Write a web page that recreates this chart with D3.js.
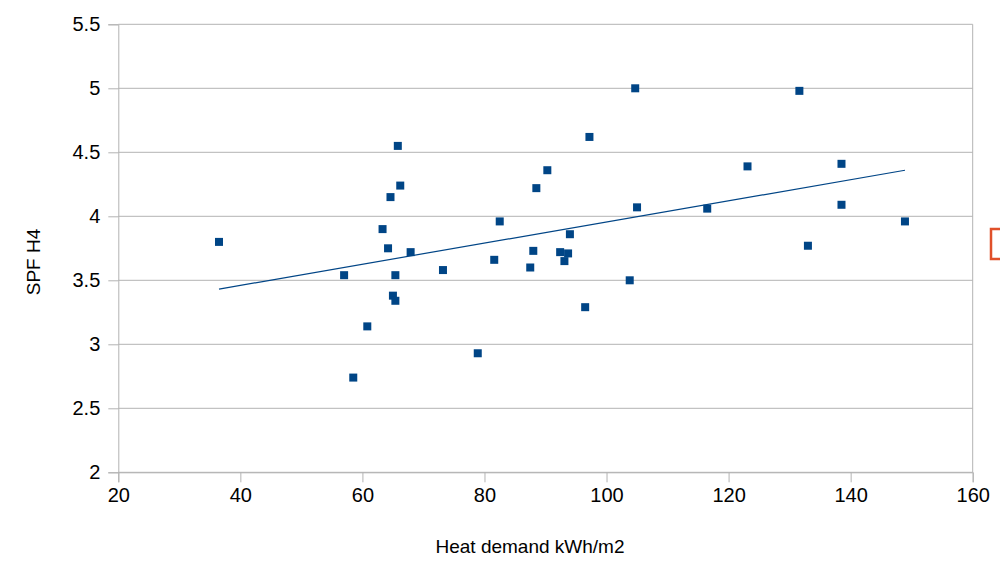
<!DOCTYPE html>
<html>
<head>
<meta charset="utf-8">
<script src="https://cdn.jsdelivr.net/npm/d3@7"></script>
<style>
  body { margin: 0; background: #fff; }
  text { font-family: "Liberation Sans", Arial, sans-serif; fill: #000; }
</style>
</head>
<body>
<div id="chart"></div>
<script>
// heat demand (kWh/m2) and SPF H4 readings
var heatDemand = [36.5, 65.8, 97.2, 90.3, 88.5, 66.2, 64.6, 105.0, 63.3, 82.5,
    94.0, 64.2, 67.9, 88.0, 92.4, 93.7, 93.1, 81.6, 87.5, 73.2,
    57.0, 65.4, 103.8, 65.0, 65.4, 96.5, 60.8, 78.9, 58.5,
    104.7, 131.6, 123.1, 138.5, 116.5, 138.5, 148.9, 133.0];
var spf = [3.80, 4.55, 4.62, 4.36, 4.22, 4.24, 4.15, 4.07, 3.90, 3.96,
    3.86, 3.75, 3.72, 3.73, 3.72, 3.71, 3.65, 3.66, 3.60, 3.58,
    3.54, 3.54, 3.50, 3.38, 3.34, 3.29, 3.14, 2.93, 2.74,
    5.00, 4.98, 4.39, 4.41, 4.06, 4.09, 3.96, 3.77];

var xTicks = [20, 40, 60, 80, 100, 120, 140, 160];
var yTicks = [2, 2.5, 3, 3.5, 4, 4.5, 5, 5.5];

var margin = { top: 24.3, right: 27.3, bottom: 94.7, left: 118.3 };
var width = 1000 - margin.left - margin.right;
var height = 567 - margin.top - margin.bottom;

var svg = d3.select("#chart").append("svg")
    .attr("width", 1000)
    .attr("height", 567);

var g = svg.append("g")
    .attr("transform", "translate(" + margin.left + "," + margin.top + ")");

var x = d3.scaleLinear().domain([20, 160]).range([0, width]);
var y = d3.scaleLinear().domain([2, 5.5]).range([height, 0]);

// horizontal grid
g.append("g")
    .selectAll("line")
    .data(yTicks)
    .enter().append("line")
    .attr("x1", 0)
    .attr("x2", width)
    .attr("y1", function (d) { return y(d); })
    .attr("y2", function (d) { return y(d); })
    .attr("stroke", "#b3b3b3")
    .attr("stroke-width", 1);

// right border
g.append("line")
    .attr("x1", width).attr("x2", width)
    .attr("y1", 0).attr("y2", height)
    .attr("stroke", "#b3b3b3");

var xAxisCall = d3.axisBottom(x)
    .tickValues(xTicks)
    .tickSize(10)
    .tickPadding(6)
    .tickFormat(d3.format("d"));

var xAxis = g.append("g")
    .attr("class", "x axis")
    .attr("transform", "translate(0," + height + ")")
    .call(xAxisCall);

var yAxisCall = d3.axisLeft(y)
    .tickValues(yTicks)
    .tickSize(10)
    .tickPadding(8)
    .tickFormat(function (d) { return String(d); });

var yAxis = g.append("g")
    .attr("class", "y axis")
    .call(yAxisCall);

[xAxis, yAxis].forEach(function (a) {
    a.selectAll("path.domain").attr("stroke", "#b3b3b3");
    a.selectAll(".tick line").attr("stroke", "#b3b3b3");
    a.selectAll("text")
        .attr("font-family", "'Liberation Sans', Arial, sans-serif")
        .attr("font-size", 20)
        .attr("fill", "#000");
});

// linear trend line (least squares over the points)
var n = heatDemand.length;
var mx = d3.mean(heatDemand), my = d3.mean(spf);
var sxy = 0, sxx = 0;
for (var i = 0; i < n; i++) {
    sxy += (heatDemand[i] - mx) * (spf[i] - my);
    sxx += (heatDemand[i] - mx) * (heatDemand[i] - mx);
}
var slope = sxy / sxx;
var intercept = my - slope * mx;
var xExt = d3.extent(heatDemand);

g.append("line")
    .attr("x1", x(xExt[0]))
    .attr("y1", y(intercept + slope * xExt[0]))
    .attr("x2", x(xExt[1]))
    .attr("y2", y(intercept + slope * xExt[1]))
    .attr("stroke", "#004586")
    .attr("stroke-width", 1.2);

// points
var size = 8;
g.append("g")
    .selectAll("rect")
    .data(d3.range(n))
    .enter().append("rect")
    .attr("x", function (i) { return x(heatDemand[i]) - size / 2; })
    .attr("y", function (i) { return y(spf[i]) - size / 2; })
    .attr("width", size)
    .attr("height", size)
    .attr("fill", "#004586");

// axis titles
svg.append("text")
    .attr("x", 530)
    .attr("y", 553)
    .attr("text-anchor", "middle")
    .attr("font-size", 19)
    .text("Heat demand kWh/m2");

svg.append("text")
    .attr("transform", "translate(40,262) rotate(-90)")
    .attr("text-anchor", "middle")
    .attr("font-size", 19)
    .text("SPF H4");

// cut-off legend box at the right edge
svg.append("rect")
    .attr("x", 991)
    .attr("y", 229)
    .attr("width", 30)
    .attr("height", 30)
    .attr("fill", "none")
    .attr("stroke", "#e0502a")
    .attr("stroke-width", 2.5);
</script>
</body>
</html>
